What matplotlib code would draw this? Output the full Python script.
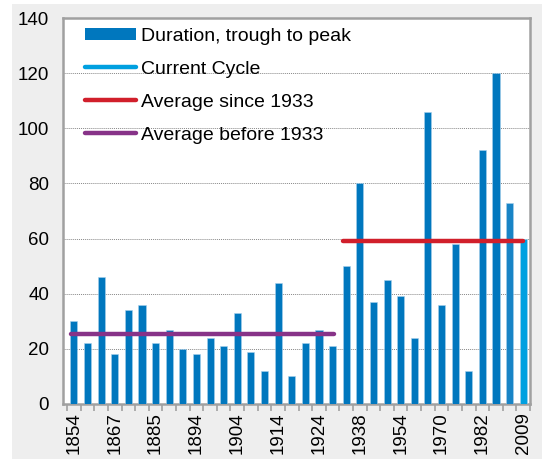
import matplotlib.pyplot as plt
from matplotlib.patches import Rectangle
from matplotlib.lines import Line2D
from matplotlib.patches import Patch

plt.rcParams["font.family"] = ["Liberation Sans", "DejaVu Sans"]
plt.rcParams["font.size"] = 13

# Data: expansions, trough to peak (months)
years = [1854, 1858, 1861, 1867, 1870, 1879, 1885, 1888, 1891, 1894, 1897, 1900,
         1904, 1908, 1912, 1914, 1919, 1921, 1924, 1927, 1933, 1938, 1945, 1949,
         1954, 1958, 1961, 1970, 1975, 1980, 1982, 1991, 2001, 2009]
duration = [30, 22, 46, 18, 34, 36, 22, 27, 20, 18, 24, 21,
            33, 19, 12, 44, 10, 22, 27, 21, 50, 80, 37, 45,
            39, 24, 106, 36, 58, 12, 92, 120, 73, 60]
avg_before_1933 = 25.3
avg_since_1933 = 59.3
first_since_1933 = 1933

BLUE = "#0077be"
LIGHT_BLUE = "#00a0e0"
RED = "#d11f2b"
PURPLE = "#873388"
GRID = "#888888"
SPINE = "#a0a0a0"

fig = plt.figure(figsize=(5.42, 4.59), dpi=100, facecolor="white")
# grey panel behind the chart
fig.patches.append(Rectangle((12 / 542, 0), 1, 1 - 4 / 459, transform=fig.transFigure,
                             facecolor="#eeeeee", edgecolor="none", zorder=-10))
ax = fig.add_axes([63 / 542, 55 / 459, (530 - 63) / 542, (404 - 18) / 459])
ax.set_facecolor("white")

x = list(range(len(years)))
colors = [BLUE] * len(years)
colors[-2] = "#1884c6"
colors[-1] = LIGHT_BLUE
ax.bar(x, duration, width=0.52, color=colors, edgecolor="#a8d0ec", linewidth=0.4, zorder=3)

split = years.index(first_since_1933)
ax.plot([-0.2, split - 0.9], [avg_before_1933] * 2, color=PURPLE, lw=3.2,
        solid_capstyle="round", zorder=4)
ax.plot([split - 0.2, len(years) - 1], [avg_since_1933] * 2, color=RED, lw=3.2,
        solid_capstyle="round", zorder=4)

ax.set_ylim(0, 140)
ax.set_xlim(-0.8, len(years) - 1 + 0.42)
ax.set_yticks(range(0, 141, 20))
ax.grid(axis="y", linestyle=(0, (1, 1)), color=GRID, linewidth=0.7, zorder=0)

ax.set_xticks([i for i in x if i % 3 == 0])
ax.set_xticklabels([str(years[i]) for i in x if i % 3 == 0], rotation=90)
ax.set_xticks([i - 0.5 for i in x] + [len(years) - 0.5], minor=True)
ax.tick_params(axis="x", which="major", length=0, pad=6, labelsize=13.5)
ax.tick_params(axis="x", which="minor", length=5, color=SPINE, width=1.2)
ax.tick_params(axis="y", length=0, pad=10, labelsize=13.5)

for side in ["left", "bottom", "top", "right"]:
    ax.spines[side].set_color(SPINE)
    ax.spines[side].set_linewidth(1.8)

handles = [
    Patch(facecolor=BLUE, edgecolor="none"),
    Line2D([], [], color=LIGHT_BLUE, lw=3.2, solid_capstyle="round"),
    Line2D([], [], color=RED, lw=3.2, solid_capstyle="round"),
    Line2D([], [], color=PURPLE, lw=3.2, solid_capstyle="round"),
]
labels = ["Duration, trough to peak", "Current Cycle", "Average since 1933", "Average before 1933"]
ax.legend(handles, labels, loc="upper left", bbox_to_anchor=(0.01, 1.02), frameon=False,
          handlelength=2.6, handleheight=0.55, handletextpad=0.25, labelspacing=0.82,
          fontsize=14)

fig.savefig("out.png", dpi=100, facecolor=fig.get_facecolor())
